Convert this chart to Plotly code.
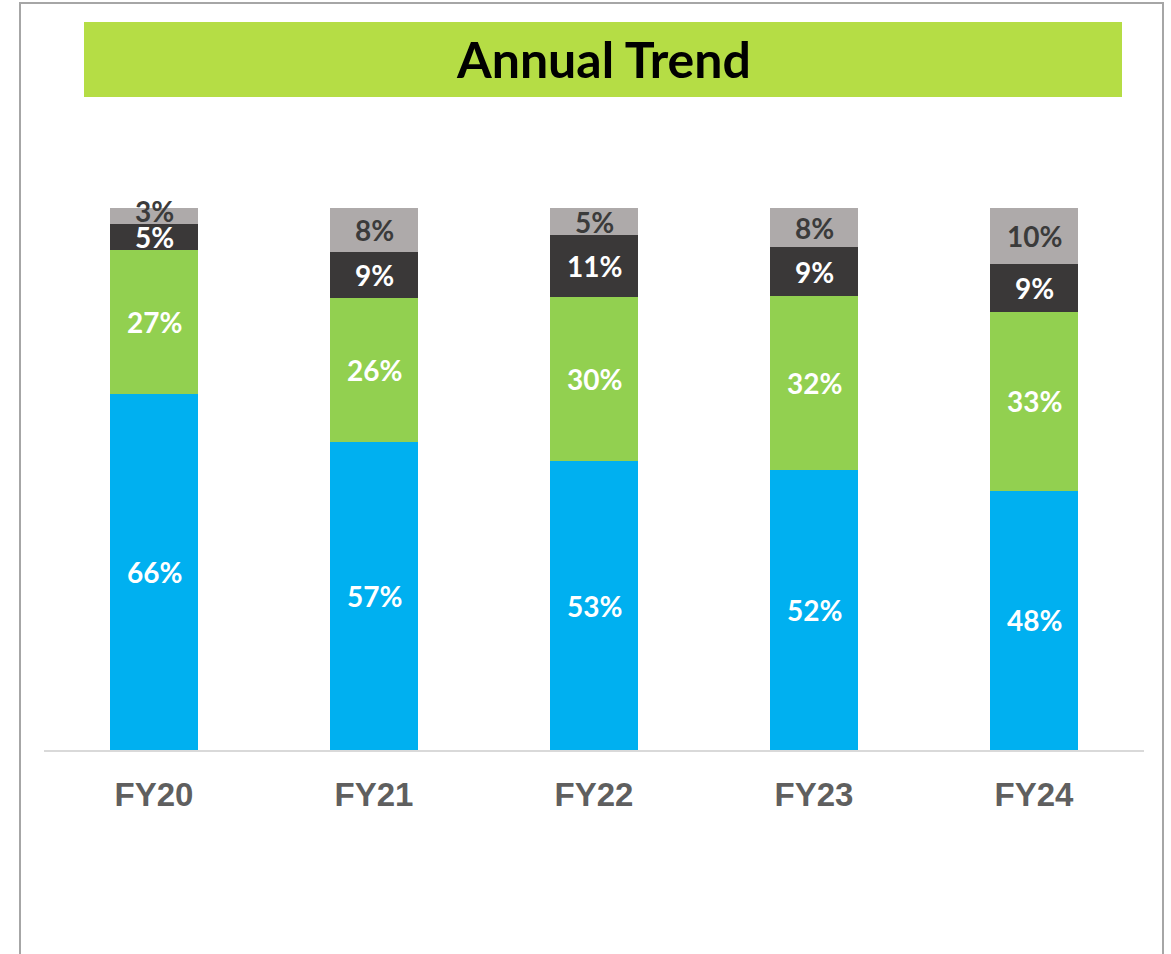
import plotly.graph_objects as go

categories = ["FY20", "FY21", "FY22", "FY23", "FY24"]
# segment shares (percent of total)
seg_blue = [65.7, 56.8, 53.3, 51.7, 47.8]
seg_green = [26.6, 26.6, 30.2, 32.1, 33.0]
seg_dark = [4.8, 8.5, 11.4, 8.9, 8.9]
seg_gray = [2.9, 8.1, 5.1, 7.3, 10.3]
# data labels as printed on the chart
lbl_blue = ["66%", "57%", "53%", "52%", "48%"]
lbl_green = ["27%", "26%", "30%", "32%", "33%"]
lbl_dark = ["5%", "9%", "11%", "9%", "9%"]
lbl_gray = ["3%", "8%", "5%", "8%", "10%"]

series = [
    ("s1", seg_blue, lbl_blue, "#00B0F0", "#FFFFFF"),
    ("s2", seg_green, lbl_green, "#92D050", "#FFFFFF"),
    ("s3", seg_dark, lbl_dark, "#3A3838", "#FFFFFF"),
    ("s4", seg_gray, lbl_gray, "#AEAAAA", "#3B3B3B"),
]

W, H = 1171, 954
L, R, T, B = 44, 27, 159, 204
plot_w = W - L - R
plot_h = H - T - B
YMAX = 109

def px_x(px):
    return (px - L) / plot_w

def px_y(py):
    return (H - B - py) / plot_h

fig = go.Figure()
annotations = []
base = [0] * len(categories)
for name, vals, lbls, color, tcolor in series:
    fig.add_trace(go.Bar(x=categories, y=vals, name=name, marker=dict(color=color, line=dict(width=0)),
                         hoverinfo="x+y"))
    for i, c in enumerate(categories):
        mid = base[i] + vals[i] / 2
        # tiny top segment: lift its label slightly so it clears the one below
        ys = 5 if vals[i] < 4 else 0
        annotations.append(dict(x=c, y=mid, xref="x", yref="y", text=f"<b>{lbls[i]}</b>",
                                showarrow=False, yshift=ys,
                                font=dict(family="Lato", size=28, color=tcolor)))
        base[i] += vals[i]

annotations.append(dict(x=(px_x(84) + px_x(1122)) / 2, y=(px_y(22) + px_y(97)) / 2,
                        xref="paper", yref="paper", text="<b>Annual Trend</b>", showarrow=False,
                        font=dict(family="Lato", size=50, color="#000000", weight=800),
                        xanchor="center", yanchor="middle"))

shapes = [
    dict(type="rect", xref="paper", yref="paper", x0=px_x(84), x1=px_x(1122), y0=px_y(97), y1=px_y(22),
         fillcolor="#B5DD45", line=dict(width=0), layer="below"),
    dict(type="rect", xref="paper", yref="paper", x0=px_x(20), x1=px_x(1163), y0=px_y(1000), y1=px_y(3),
         fillcolor="rgba(0,0,0,0)", line=dict(width=2, color="#A6A6A6")),
]

fig.update_layout(
    width=W, height=H,
    margin=dict(l=L, r=R, t=T, b=B),
    barmode="stack",
    bargap=0.6,
    showlegend=False,
    paper_bgcolor="white",
    plot_bgcolor="white",
    annotations=annotations,
    shapes=shapes,
    xaxis=dict(showline=True, linecolor="#D9D9D9", linewidth=2, showgrid=False, ticks="",
               tickfont=dict(family="Liberation Sans", size=33, color="#5F5F5F"),
               tickprefix="<b>", ticksuffix="</b>", ticklabelstandoff=14),
    yaxis=dict(range=[0, YMAX], visible=False, showgrid=False, zeroline=False),
)

fig.write_html("out.html", config={"displayModeBar": False},
               post_script="document.body.style.margin='0';")
